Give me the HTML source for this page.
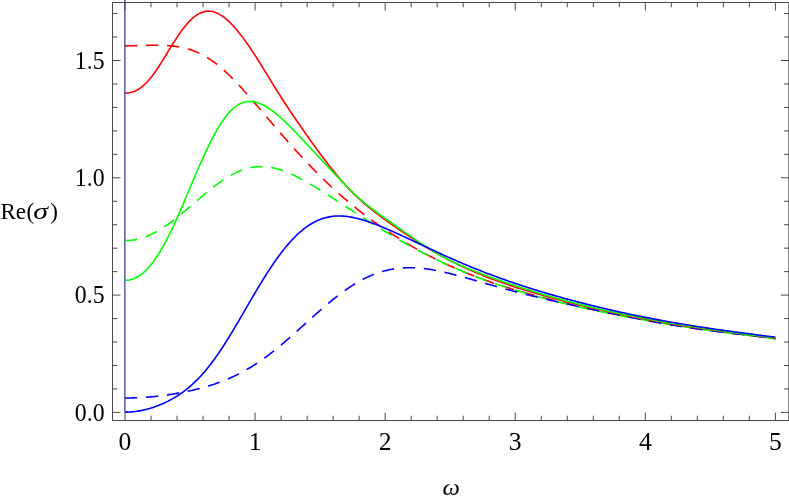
<!DOCTYPE html>
<html><head><meta charset="utf-8"><title>Re(sigma) vs omega</title>
<style>
html,body{margin:0;padding:0;background:#fff;}
body{width:789px;height:500px;overflow:hidden;font-family:"Liberation Serif",serif;}
svg{display:block;}
text{font-family:"Liberation Serif",serif;font-size:25.6px;fill:#000;}
</style></head>
<body>
<svg width="789" height="500" viewBox="0 0 789 500">
<rect x="0" y="0" width="789" height="500" fill="#ffffff"/>
<line x1="124.8" y1="0" x2="124.8" y2="412.4" stroke="#6463b0" stroke-width="1.6"/>
<rect x="112.5" y="2.5" width="676.35" height="418.0" fill="none" stroke="#4a4a4a" stroke-width="1"/>
<path d="M125.00 420.5 v-8.0 M125.00 2.5 v8.0 M151.02 420.5 v-4.8 M151.02 2.5 v4.8 M177.03 420.5 v-4.8 M177.03 2.5 v4.8 M203.05 420.5 v-4.8 M203.05 2.5 v4.8 M229.06 420.5 v-4.8 M229.06 2.5 v4.8 M255.08 420.5 v-8.0 M255.08 2.5 v8.0 M281.10 420.5 v-4.8 M281.10 2.5 v4.8 M307.11 420.5 v-4.8 M307.11 2.5 v4.8 M333.13 420.5 v-4.8 M333.13 2.5 v4.8 M359.14 420.5 v-4.8 M359.14 2.5 v4.8 M385.16 420.5 v-8.0 M385.16 2.5 v8.0 M411.18 420.5 v-4.8 M411.18 2.5 v4.8 M437.19 420.5 v-4.8 M437.19 2.5 v4.8 M463.21 420.5 v-4.8 M463.21 2.5 v4.8 M489.22 420.5 v-4.8 M489.22 2.5 v4.8 M515.24 420.5 v-8.0 M515.24 2.5 v8.0 M541.26 420.5 v-4.8 M541.26 2.5 v4.8 M567.27 420.5 v-4.8 M567.27 2.5 v4.8 M593.29 420.5 v-4.8 M593.29 2.5 v4.8 M619.30 420.5 v-4.8 M619.30 2.5 v4.8 M645.32 420.5 v-8.0 M645.32 2.5 v8.0 M671.34 420.5 v-4.8 M671.34 2.5 v4.8 M697.35 420.5 v-4.8 M697.35 2.5 v4.8 M723.37 420.5 v-4.8 M723.37 2.5 v4.8 M749.38 420.5 v-4.8 M749.38 2.5 v4.8 M775.40 420.5 v-8.0 M775.40 2.5 v8.0 M112.5 412.40 h8.0 M788.85 412.40 h-8.0 M112.5 388.94 h4.8 M788.85 388.94 h-4.8 M112.5 365.48 h4.8 M788.85 365.48 h-4.8 M112.5 342.02 h4.8 M788.85 342.02 h-4.8 M112.5 318.56 h4.8 M788.85 318.56 h-4.8 M112.5 295.10 h8.0 M788.85 295.10 h-8.0 M112.5 271.64 h4.8 M788.85 271.64 h-4.8 M112.5 248.18 h4.8 M788.85 248.18 h-4.8 M112.5 224.72 h4.8 M788.85 224.72 h-4.8 M112.5 201.26 h4.8 M788.85 201.26 h-4.8 M112.5 177.80 h8.0 M788.85 177.80 h-8.0 M112.5 154.34 h4.8 M788.85 154.34 h-4.8 M112.5 130.88 h4.8 M788.85 130.88 h-4.8 M112.5 107.42 h4.8 M788.85 107.42 h-4.8 M112.5 83.96 h4.8 M788.85 83.96 h-4.8 M112.5 60.50 h8.0 M788.85 60.50 h-8.0 M112.5 37.04 h4.8 M788.85 37.04 h-4.8 M112.5 13.58 h4.8 M788.85 13.58 h-4.8" stroke="#4a4a4a" stroke-width="1" fill="none"/>
<g stroke-linecap="butt" stroke-linejoin="round">
<path d="M125.00 45.85 L126.30 45.84 L127.60 45.82 L128.90 45.80 L130.20 45.78 L131.50 45.76 L132.80 45.73 L134.11 45.70 L135.41 45.67 L136.71 45.64 L138.01 45.61 L139.31 45.58 L140.61 45.55 L141.91 45.51 L143.21 45.48 L144.51 45.45 L145.81 45.42 L147.11 45.39 L148.41 45.37 L149.72 45.34 L151.02 45.32 L152.32 45.31 L153.62 45.30 L154.92 45.29 L156.22 45.29 L157.52 45.29 L158.82 45.31 L160.12 45.33 L161.42 45.35 L162.72 45.39 L164.02 45.44 L165.32 45.50 L166.63 45.56 L167.93 45.65 L169.23 45.74 L170.53 45.85 L171.83 45.97 L173.13 46.10 L174.43 46.26 L175.73 46.43 L177.03 46.61 L178.33 46.82 L179.63 47.04 L180.93 47.29 L182.24 47.55 L183.54 47.84 L184.84 48.15 L186.14 48.48 L187.44 48.84 L188.74 49.22 L190.04 49.62 L191.34 50.05 L192.64 50.51 L193.94 50.99 L195.24 51.50 L196.54 52.04 L197.84 52.61 L199.15 53.21 L200.45 53.83 L201.75 54.48 L203.05 55.17 L204.35 55.88 L205.65 56.63 L206.95 57.40 L208.25 58.21 L209.55 59.04 L210.85 59.91 L212.15 60.80 L213.45 61.73 L214.76 62.68 L216.06 63.67 L217.36 64.68 L218.66 65.72 L219.96 66.79 L221.26 67.89 L222.56 69.02 L223.86 70.17 L225.16 71.35 L226.46 72.55 L227.76 73.77 L229.06 75.02 L230.36 76.29 L231.67 77.59 L232.97 78.90 L234.27 80.23 L235.57 81.58 L236.87 82.95 L238.17 84.34 L239.47 85.74 L240.77 87.16 L242.07 88.58 L243.37 90.03 L244.67 91.48 L245.97 92.95 L247.28 94.42 L248.58 95.91 L249.88 97.40 L251.18 98.90 L252.48 100.40 L253.78 101.91 L255.08 103.43 L256.38 104.95 L257.68 106.47 L258.98 108.00 L260.28 109.53 L261.58 111.06 L262.88 112.59 L264.19 114.12 L265.49 115.65 L266.79 117.18 L268.09 118.71 L269.39 120.23 L270.69 121.76 L271.99 123.28 L273.29 124.80 L274.59 126.32 L275.89 127.84 L277.19 129.35 L278.49 130.86 L279.80 132.36 L281.10 133.86 L282.40 135.35 L283.70 136.85 L285.00 138.33 L286.30 139.81 L287.60 141.29 L288.90 142.76 L290.20 144.22 L291.50 145.68 L292.80 147.13 L294.10 148.58 L295.40 150.02 L296.71 151.45 L298.01 152.88 L299.31 154.30 L300.61 155.71 L301.91 157.12 L303.21 158.52 L304.51 159.91 L305.81 161.29 L307.11 162.67 L308.41 164.03 L309.71 165.39 L311.01 166.75 L312.32 168.09 L313.62 169.43 L314.92 170.75 L316.22 172.07 L317.52 173.38 L318.82 174.68 L320.12 175.98 L321.42 177.26 L322.72 178.53 L324.02 179.80 L325.32 181.06 L326.62 182.30 L327.92 183.54 L329.23 184.77 L330.53 185.99 L331.83 187.21 L333.13 188.41 L334.43 189.60 L335.73 190.78 L337.03 191.96 L338.33 193.13 L339.63 194.28 L340.93 195.43 L342.23 196.57 L343.53 197.70 L344.84 198.82 L346.14 199.93 L347.44 201.03 L348.74 202.13 L350.04 203.21 L351.34 204.29 L352.64 205.36 L353.94 206.42 L355.24 207.47 L356.54 208.51 L357.84 209.55 L359.14 210.57 L360.44 211.59 L361.75 212.60 L363.05 213.61 L364.35 214.60 L365.65 215.59 L366.95 216.57 L368.25 217.54 L369.55 218.50 L370.85 219.46 L372.15 220.41 L373.45 221.35 L374.75 222.29 L376.05 223.22 L377.36 224.14 L378.66 225.05 L379.96 225.96 L381.26 226.86 L382.56 227.76 L383.86 228.65 L385.16 229.53 L386.46 230.40 L387.76 231.27 L389.06 232.13 L390.36 232.99 L391.66 233.84 L392.96 234.68 L394.27 235.52 L395.57 236.35 L396.87 237.18 L398.17 237.99 L399.47 238.81 L400.77 239.61 L402.07 240.41 L403.37 241.21 L404.67 242.00 L405.97 242.78 L407.27 243.56 L408.57 244.33 L409.88 245.09 L411.18 245.85 L412.48 246.61 L413.78 247.36 L415.08 248.10 L416.38 248.83 L417.68 249.57 L418.98 250.29 L420.28 251.01 L421.58 251.72 L422.88 252.43 L424.18 253.13 L425.48 253.83 L426.79 254.52 L428.09 255.21 L429.39 255.89 L430.69 256.56 L431.99 257.23 L433.29 257.89 L434.59 258.55 L435.89 259.20 L437.19 259.85 L438.49 260.49 L439.79 261.12 L441.09 261.75 L442.40 262.38 L443.70 263.00 L445.00 263.61 L446.30 264.22 L447.60 264.82 L448.90 265.42 L450.20 266.01 L451.50 266.60 L452.80 267.18 L454.10 267.76 L455.40 268.33 L456.70 268.90 L458.00 269.46 L459.31 270.02 L460.61 270.57 L461.91 271.12 L463.21 271.66 L464.51 272.20 L465.81 272.74 L467.11 273.26 L468.41 273.79 L469.71 274.31 L471.01 274.82 L472.31 275.33 L473.61 275.84 L474.92 276.34 L476.22 276.83 L477.52 277.33 L478.82 277.81 L480.12 278.30 L481.42 278.78 L482.72 279.25 L484.02 279.72 L485.32 280.19 L486.62 280.66 L487.92 281.12 L489.22 281.57 L490.52 282.02 L491.83 282.47 L493.13 282.91 L494.43 283.36 L495.73 283.79 L497.03 284.23 L498.33 284.66 L499.63 285.08 L500.93 285.50 L502.23 285.92 L503.53 286.34 L504.83 286.75 L506.13 287.16 L507.44 287.57 L508.74 287.97 L510.04 288.37 L511.34 288.77 L512.64 289.17 L513.94 289.56 L515.24 289.95 L516.54 290.33 L517.84 290.72 L519.14 291.10 L520.44 291.47 L521.74 291.85 L523.04 292.22 L524.35 292.59 L525.65 292.96 L526.95 293.32 L528.25 293.69 L529.55 294.05 L530.85 294.41 L532.15 294.76 L533.45 295.12 L534.75 295.47 L536.05 295.82 L537.35 296.17 L538.65 296.51 L539.96 296.85 L541.26 297.20 L542.56 297.54 L543.86 297.87 L545.16 298.21 L546.46 298.54 L547.76 298.88 L549.06 299.21 L550.36 299.54 L551.66 299.86 L552.96 300.19 L554.26 300.51 L555.56 300.83 L556.87 301.15 L558.17 301.47 L559.47 301.79 L560.77 302.11 L562.07 302.42 L563.37 302.73 L564.67 303.05 L565.97 303.36 L567.27 303.66 L568.57 303.97 L569.87 304.28 L571.17 304.58 L572.48 304.89 L573.78 305.19 L575.08 305.49 L576.38 305.79 L577.68 306.09 L578.98 306.38 L580.28 306.68 L581.58 306.97 L582.88 307.27 L584.18 307.56 L585.48 307.85 L586.78 308.14 L588.08 308.43 L589.39 308.72 L590.69 309.00 L591.99 309.29 L593.29 309.57 L594.59 309.85 L595.89 310.14 L597.19 310.42 L598.49 310.70 L599.79 310.97 L601.09 311.25 L602.39 311.53 L603.69 311.80 L605.00 312.08 L606.30 312.35 L607.60 312.62 L608.90 312.89 L610.20 313.16 L611.50 313.43 L612.80 313.70 L614.10 313.96 L615.40 314.23 L616.70 314.49 L618.00 314.76 L619.30 315.02 L620.60 315.28 L621.91 315.54 L623.21 315.80 L624.51 316.05 L625.81 316.31 L627.11 316.57 L628.41 316.82 L629.71 317.07 L631.01 317.32 L632.31 317.58 L633.61 317.83 L634.91 318.07 L636.21 318.32 L637.52 318.57 L638.82 318.81 L640.12 319.06 L641.42 319.30 L642.72 319.54 L644.02 319.78 L645.32 320.02 L646.62 320.26 L647.92 320.50 L649.22 320.73 L650.52 320.97 L651.82 321.20 L653.12 321.43 L654.43 321.66 L655.73 321.89 L657.03 322.12 L658.33 322.35 L659.63 322.58 L660.93 322.80 L662.23 323.03 L663.53 323.25 L664.83 323.47 L666.13 323.69 L667.43 323.91 L668.73 324.13 L670.04 324.34 L671.34 324.56 L672.64 324.77 L673.94 324.99 L675.24 325.20 L676.54 325.41 L677.84 325.62 L679.14 325.82 L680.44 326.03 L681.74 326.24 L683.04 326.44 L684.34 326.64 L685.64 326.84 L686.95 327.04 L688.25 327.24 L689.55 327.44 L690.85 327.64 L692.15 327.83 L693.45 328.03 L694.75 328.22 L696.05 328.41 L697.35 328.60 L698.65 328.79 L699.95 328.98 L701.25 329.17 L702.56 329.36 L703.86 329.54 L705.16 329.72 L706.46 329.91 L707.76 330.09 L709.06 330.27 L710.36 330.45 L711.66 330.63 L712.96 330.80 L714.26 330.98 L715.56 331.16 L716.86 331.33 L718.16 331.50 L719.47 331.68 L720.77 331.85 L722.07 332.02 L723.37 332.19 L724.67 332.36 L725.97 332.52 L727.27 332.69 L728.57 332.86 L729.87 333.02 L731.17 333.19 L732.47 333.35 L733.77 333.52 L735.08 333.68 L736.38 333.84 L737.68 334.00 L738.98 334.16 L740.28 334.32 L741.58 334.48 L742.88 334.64 L744.18 334.80 L745.48 334.96 L746.78 335.12 L748.08 335.28 L749.38 335.44 L750.68 335.59 L751.99 335.75 L753.29 335.91 L754.59 336.07 L755.89 336.23 L757.19 336.38 L758.49 336.54 L759.79 336.70 L761.09 336.86 L762.39 337.02 L763.69 337.18 L764.99 337.33 L766.29 337.49 L767.60 337.66 L768.90 337.82 L770.20 337.98 L771.50 338.14 L772.80 338.30 L774.10 338.47 L775.40 338.63" stroke="#ff0000" stroke-width="1.6" fill="none" stroke-dasharray="12.3 8.76"/>
<path d="M125.00 240.55 L126.30 240.54 L127.60 240.51 L128.90 240.44 L130.20 240.34 L131.50 240.20 L132.80 240.04 L134.11 239.84 L135.41 239.61 L136.71 239.35 L138.01 239.06 L139.31 238.73 L140.61 238.38 L141.91 237.99 L143.21 237.57 L144.51 237.13 L145.81 236.65 L147.11 236.14 L148.41 235.60 L149.72 235.04 L151.02 234.44 L152.32 233.82 L153.62 233.17 L154.92 232.49 L156.22 231.79 L157.52 231.06 L158.82 230.30 L160.12 229.52 L161.42 228.72 L162.72 227.89 L164.02 227.04 L165.32 226.17 L166.63 225.27 L167.93 224.36 L169.23 223.43 L170.53 222.48 L171.83 221.51 L173.13 220.52 L174.43 219.52 L175.73 218.50 L177.03 217.47 L178.33 216.43 L179.63 215.38 L180.93 214.31 L182.24 213.23 L183.54 212.15 L184.84 211.05 L186.14 209.95 L187.44 208.84 L188.74 207.73 L190.04 206.61 L191.34 205.49 L192.64 204.37 L193.94 203.25 L195.24 202.13 L196.54 201.01 L197.84 199.89 L199.15 198.77 L200.45 197.66 L201.75 196.55 L203.05 195.45 L204.35 194.36 L205.65 193.28 L206.95 192.20 L208.25 191.14 L209.55 190.09 L210.85 189.05 L212.15 188.02 L213.45 187.01 L214.76 186.01 L216.06 185.03 L217.36 184.07 L218.66 183.12 L219.96 182.19 L221.26 181.29 L222.56 180.40 L223.86 179.54 L225.16 178.70 L226.46 177.88 L227.76 177.08 L229.06 176.31 L230.36 175.57 L231.67 174.85 L232.97 174.15 L234.27 173.49 L235.57 172.85 L236.87 172.24 L238.17 171.66 L239.47 171.11 L240.77 170.59 L242.07 170.10 L243.37 169.64 L244.67 169.22 L245.97 168.82 L247.28 168.46 L248.58 168.12 L249.88 167.82 L251.18 167.55 L252.48 167.32 L253.78 167.12 L255.08 166.95 L256.38 166.81 L257.68 166.70 L258.98 166.63 L260.28 166.59 L261.58 166.58 L262.88 166.60 L264.19 166.66 L265.49 166.74 L266.79 166.86 L268.09 167.01 L269.39 167.19 L270.69 167.39 L271.99 167.63 L273.29 167.89 L274.59 168.18 L275.89 168.50 L277.19 168.84 L278.49 169.21 L279.80 169.61 L281.10 170.03 L282.40 170.47 L283.70 170.93 L285.00 171.42 L286.30 171.93 L287.60 172.46 L288.90 173.01 L290.20 173.57 L291.50 174.16 L292.80 174.76 L294.10 175.38 L295.40 176.01 L296.71 176.66 L298.01 177.32 L299.31 178.00 L300.61 178.69 L301.91 179.39 L303.21 180.10 L304.51 180.82 L305.81 181.55 L307.11 182.29 L308.41 183.04 L309.71 183.80 L311.01 184.57 L312.32 185.34 L313.62 186.12 L314.92 186.90 L316.22 187.69 L317.52 188.49 L318.82 189.29 L320.12 190.09 L321.42 190.90 L322.72 191.72 L324.02 192.53 L325.32 193.35 L326.62 194.18 L327.92 195.00 L329.23 195.83 L330.53 196.66 L331.83 197.50 L333.13 198.33 L334.43 199.17 L335.73 200.00 L337.03 200.84 L338.33 201.68 L339.63 202.53 L340.93 203.37 L342.23 204.21 L343.53 205.05 L344.84 205.90 L346.14 206.74 L347.44 207.59 L348.74 208.43 L350.04 209.27 L351.34 210.12 L352.64 210.96 L353.94 211.80 L355.24 212.64 L356.54 213.48 L357.84 214.32 L359.14 215.16 L360.44 216.00 L361.75 216.83 L363.05 217.67 L364.35 218.50 L365.65 219.33 L366.95 220.16 L368.25 220.98 L369.55 221.81 L370.85 222.63 L372.15 223.45 L373.45 224.27 L374.75 225.08 L376.05 225.89 L377.36 226.70 L378.66 227.51 L379.96 228.31 L381.26 229.11 L382.56 229.91 L383.86 230.71 L385.16 231.50 L386.46 232.29 L387.76 233.07 L389.06 233.85 L390.36 234.63 L391.66 235.41 L392.96 236.18 L394.27 236.94 L395.57 237.71 L396.87 238.47 L398.17 239.22 L399.47 239.98 L400.77 240.72 L402.07 241.47 L403.37 242.21 L404.67 242.95 L405.97 243.68 L407.27 244.41 L408.57 245.13 L409.88 245.85 L411.18 246.57 L412.48 247.28 L413.78 247.99 L415.08 248.69 L416.38 249.39 L417.68 250.08 L418.98 250.77 L420.28 251.46 L421.58 252.14 L422.88 252.82 L424.18 253.49 L425.48 254.16 L426.79 254.82 L428.09 255.48 L429.39 256.14 L430.69 256.79 L431.99 257.44 L433.29 258.08 L434.59 258.71 L435.89 259.35 L437.19 259.98 L438.49 260.60 L439.79 261.22 L441.09 261.83 L442.40 262.44 L443.70 263.05 L445.00 263.65 L446.30 264.25 L447.60 264.84 L448.90 265.43 L450.20 266.01 L451.50 266.59 L452.80 267.17 L454.10 267.74 L455.40 268.30 L456.70 268.87 L458.00 269.42 L459.31 269.98 L460.61 270.53 L461.91 271.07 L463.21 271.61 L464.51 272.15 L465.81 272.68 L467.11 273.21 L468.41 273.73 L469.71 274.25 L471.01 274.77 L472.31 275.28 L473.61 275.79 L474.92 276.29 L476.22 276.79 L477.52 277.29 L478.82 277.78 L480.12 278.27 L481.42 278.75 L482.72 279.23 L484.02 279.71 L485.32 280.18 L486.62 280.65 L487.92 281.12 L489.22 281.58 L490.52 282.04 L491.83 282.50 L493.13 282.95 L494.43 283.40 L495.73 283.84 L497.03 284.28 L498.33 284.72 L499.63 285.16 L500.93 285.59 L502.23 286.02 L503.53 286.44 L504.83 286.86 L506.13 287.28 L507.44 287.70 L508.74 288.11 L510.04 288.52 L511.34 288.93 L512.64 289.33 L513.94 289.73 L515.24 290.13 L516.54 290.53 L517.84 290.92 L519.14 291.31 L520.44 291.70 L521.74 292.08 L523.04 292.46 L524.35 292.84 L525.65 293.22 L526.95 293.59 L528.25 293.96 L529.55 294.33 L530.85 294.70 L532.15 295.06 L533.45 295.43 L534.75 295.78 L536.05 296.14 L537.35 296.50 L538.65 296.85 L539.96 297.20 L541.26 297.55 L542.56 297.90 L543.86 298.24 L545.16 298.58 L546.46 298.92 L547.76 299.26 L549.06 299.60 L550.36 299.93 L551.66 300.27 L552.96 300.60 L554.26 300.92 L555.56 301.25 L556.87 301.58 L558.17 301.90 L559.47 302.22 L560.77 302.54 L562.07 302.86 L563.37 303.18 L564.67 303.49 L565.97 303.80 L567.27 304.11 L568.57 304.42 L569.87 304.73 L571.17 305.04 L572.48 305.34 L573.78 305.65 L575.08 305.95 L576.38 306.25 L577.68 306.55 L578.98 306.84 L580.28 307.14 L581.58 307.43 L582.88 307.73 L584.18 308.02 L585.48 308.31 L586.78 308.60 L588.08 308.88 L589.39 309.17 L590.69 309.45 L591.99 309.74 L593.29 310.02 L594.59 310.30 L595.89 310.58 L597.19 310.85 L598.49 311.13 L599.79 311.41 L601.09 311.68 L602.39 311.95 L603.69 312.22 L605.00 312.49 L606.30 312.76 L607.60 313.03 L608.90 313.29 L610.20 313.56 L611.50 313.82 L612.80 314.08 L614.10 314.35 L615.40 314.61 L616.70 314.86 L618.00 315.12 L619.30 315.38 L620.60 315.63 L621.91 315.89 L623.21 316.14 L624.51 316.39 L625.81 316.64 L627.11 316.89 L628.41 317.14 L629.71 317.38 L631.01 317.63 L632.31 317.87 L633.61 318.12 L634.91 318.36 L636.21 318.60 L637.52 318.84 L638.82 319.08 L640.12 319.32 L641.42 319.55 L642.72 319.79 L644.02 320.02 L645.32 320.25 L646.62 320.49 L647.92 320.72 L649.22 320.95 L650.52 321.18 L651.82 321.40 L653.12 321.63 L654.43 321.85 L655.73 322.08 L657.03 322.30 L658.33 322.52 L659.63 322.74 L660.93 322.96 L662.23 323.18 L663.53 323.40 L664.83 323.62 L666.13 323.83 L667.43 324.04 L668.73 324.26 L670.04 324.47 L671.34 324.68 L672.64 324.89 L673.94 325.10 L675.24 325.31 L676.54 325.51 L677.84 325.72 L679.14 325.92 L680.44 326.13 L681.74 326.33 L683.04 326.53 L684.34 326.73 L685.64 326.93 L686.95 327.13 L688.25 327.33 L689.55 327.52 L690.85 327.72 L692.15 327.91 L693.45 328.10 L694.75 328.30 L696.05 328.49 L697.35 328.68 L698.65 328.87 L699.95 329.06 L701.25 329.24 L702.56 329.43 L703.86 329.61 L705.16 329.80 L706.46 329.98 L707.76 330.16 L709.06 330.35 L710.36 330.53 L711.66 330.71 L712.96 330.89 L714.26 331.06 L715.56 331.24 L716.86 331.42 L718.16 331.59 L719.47 331.77 L720.77 331.94 L722.07 332.11 L723.37 332.29 L724.67 332.46 L725.97 332.63 L727.27 332.80 L728.57 332.97 L729.87 333.14 L731.17 333.30 L732.47 333.47 L733.77 333.64 L735.08 333.80 L736.38 333.97 L737.68 334.13 L738.98 334.30 L740.28 334.46 L741.58 334.62 L742.88 334.78 L744.18 334.94 L745.48 335.11 L746.78 335.27 L748.08 335.43 L749.38 335.58 L750.68 335.74 L751.99 335.90 L753.29 336.06 L754.59 336.22 L755.89 336.38 L757.19 336.53 L758.49 336.69 L759.79 336.85 L761.09 337.00 L762.39 337.16 L763.69 337.32 L764.99 337.47 L766.29 337.63 L767.60 337.78 L768.90 337.94 L770.20 338.10 L771.50 338.25 L772.80 338.41 L774.10 338.56 L775.40 338.72" stroke="#00ff00" stroke-width="1.6" fill="none" stroke-dasharray="12.3 8.78"/>
<path d="M125.00 398.03 L126.30 398.03 L127.60 398.01 L128.90 398.00 L130.20 397.97 L131.50 397.94 L132.80 397.91 L134.11 397.87 L135.41 397.82 L136.71 397.77 L138.01 397.71 L139.31 397.65 L140.61 397.58 L141.91 397.50 L143.21 397.42 L144.51 397.34 L145.81 397.25 L147.11 397.15 L148.41 397.05 L149.72 396.94 L151.02 396.83 L152.32 396.71 L153.62 396.58 L154.92 396.45 L156.22 396.32 L157.52 396.18 L158.82 396.03 L160.12 395.88 L161.42 395.72 L162.72 395.55 L164.02 395.39 L165.32 395.21 L166.63 395.03 L167.93 394.84 L169.23 394.65 L170.53 394.46 L171.83 394.25 L173.13 394.04 L174.43 393.83 L175.73 393.61 L177.03 393.38 L178.33 393.15 L179.63 392.92 L180.93 392.67 L182.24 392.42 L183.54 392.17 L184.84 391.91 L186.14 391.64 L187.44 391.37 L188.74 391.09 L190.04 390.80 L191.34 390.51 L192.64 390.21 L193.94 389.90 L195.24 389.59 L196.54 389.27 L197.84 388.94 L199.15 388.61 L200.45 388.27 L201.75 387.92 L203.05 387.56 L204.35 387.20 L205.65 386.83 L206.95 386.45 L208.25 386.06 L209.55 385.66 L210.85 385.25 L212.15 384.84 L213.45 384.41 L214.76 383.97 L216.06 383.53 L217.36 383.07 L218.66 382.61 L219.96 382.13 L221.26 381.65 L222.56 381.15 L223.86 380.64 L225.16 380.12 L226.46 379.59 L227.76 379.04 L229.06 378.49 L230.36 377.92 L231.67 377.33 L232.97 376.74 L234.27 376.13 L235.57 375.51 L236.87 374.88 L238.17 374.23 L239.47 373.57 L240.77 372.89 L242.07 372.20 L243.37 371.50 L244.67 370.78 L245.97 370.05 L247.28 369.30 L248.58 368.54 L249.88 367.76 L251.18 366.97 L252.48 366.16 L253.78 365.34 L255.08 364.51 L256.38 363.66 L257.68 362.80 L258.98 361.92 L260.28 361.03 L261.58 360.12 L262.88 359.20 L264.19 358.27 L265.49 357.32 L266.79 356.36 L268.09 355.39 L269.39 354.41 L270.69 353.41 L271.99 352.40 L273.29 351.38 L274.59 350.34 L275.89 349.30 L277.19 348.24 L278.49 347.18 L279.80 346.10 L281.10 345.02 L282.40 343.93 L283.70 342.82 L285.00 341.71 L286.30 340.59 L287.60 339.47 L288.90 338.33 L290.20 337.19 L291.50 336.05 L292.80 334.90 L294.10 333.74 L295.40 332.58 L296.71 331.42 L298.01 330.25 L299.31 329.08 L300.61 327.90 L301.91 326.73 L303.21 325.55 L304.51 324.38 L305.81 323.20 L307.11 322.02 L308.41 320.85 L309.71 319.67 L311.01 318.50 L312.32 317.33 L313.62 316.16 L314.92 315.00 L316.22 313.84 L317.52 312.69 L318.82 311.54 L320.12 310.40 L321.42 309.27 L322.72 308.14 L324.02 307.02 L325.32 305.90 L326.62 304.80 L327.92 303.71 L329.23 302.62 L330.53 301.55 L331.83 300.48 L333.13 299.43 L334.43 298.39 L335.73 297.36 L337.03 296.34 L338.33 295.34 L339.63 294.35 L340.93 293.38 L342.23 292.42 L343.53 291.47 L344.84 290.54 L346.14 289.63 L347.44 288.73 L348.74 287.84 L350.04 286.98 L351.34 286.13 L352.64 285.30 L353.94 284.49 L355.24 283.69 L356.54 282.91 L357.84 282.15 L359.14 281.41 L360.44 280.69 L361.75 279.99 L363.05 279.31 L364.35 278.65 L365.65 278.00 L366.95 277.38 L368.25 276.77 L369.55 276.19 L370.85 275.63 L372.15 275.08 L373.45 274.56 L374.75 274.05 L376.05 273.57 L377.36 273.11 L378.66 272.66 L379.96 272.24 L381.26 271.84 L382.56 271.45 L383.86 271.09 L385.16 270.74 L386.46 270.42 L387.76 270.11 L389.06 269.83 L390.36 269.56 L391.66 269.31 L392.96 269.08 L394.27 268.87 L395.57 268.68 L396.87 268.50 L398.17 268.35 L399.47 268.21 L400.77 268.09 L402.07 267.99 L403.37 267.90 L404.67 267.83 L405.97 267.78 L407.27 267.74 L408.57 267.72 L409.88 267.72 L411.18 267.73 L412.48 267.75 L413.78 267.79 L415.08 267.85 L416.38 267.92 L417.68 268.00 L418.98 268.10 L420.28 268.21 L421.58 268.33 L422.88 268.47 L424.18 268.61 L425.48 268.77 L426.79 268.95 L428.09 269.13 L429.39 269.32 L430.69 269.53 L431.99 269.74 L433.29 269.96 L434.59 270.20 L435.89 270.44 L437.19 270.69 L438.49 270.95 L439.79 271.22 L441.09 271.50 L442.40 271.78 L443.70 272.07 L445.00 272.37 L446.30 272.67 L447.60 272.98 L448.90 273.30 L450.20 273.62 L451.50 273.94 L452.80 274.27 L454.10 274.61 L455.40 274.95 L456.70 275.29 L458.00 275.64 L459.31 275.99 L460.61 276.35 L461.91 276.70 L463.21 277.06 L464.51 277.42 L465.81 277.79 L467.11 278.15 L468.41 278.52 L469.71 278.89 L471.01 279.26 L472.31 279.63 L473.61 280.00 L474.92 280.38 L476.22 280.75 L477.52 281.12 L478.82 281.50 L480.12 281.87 L481.42 282.25 L482.72 282.62 L484.02 282.99 L485.32 283.37 L486.62 283.74 L487.92 284.11 L489.22 284.48 L490.52 284.85 L491.83 285.22 L493.13 285.59 L494.43 285.95 L495.73 286.32 L497.03 286.68 L498.33 287.05 L499.63 287.41 L500.93 287.77 L502.23 288.13 L503.53 288.48 L504.83 288.84 L506.13 289.19 L507.44 289.54 L508.74 289.89 L510.04 290.24 L511.34 290.59 L512.64 290.93 L513.94 291.27 L515.24 291.61 L516.54 291.95 L517.84 292.29 L519.14 292.63 L520.44 292.96 L521.74 293.29 L523.04 293.62 L524.35 293.95 L525.65 294.28 L526.95 294.60 L528.25 294.93 L529.55 295.25 L530.85 295.57 L532.15 295.89 L533.45 296.20 L534.75 296.52 L536.05 296.83 L537.35 297.14 L538.65 297.45 L539.96 297.76 L541.26 298.07 L542.56 298.38 L543.86 298.68 L545.16 298.99 L546.46 299.29 L547.76 299.59 L549.06 299.89 L550.36 300.19 L551.66 300.49 L552.96 300.79 L554.26 301.08 L555.56 301.38 L556.87 301.67 L558.17 301.97 L559.47 302.26 L560.77 302.55 L562.07 302.84 L563.37 303.13 L564.67 303.42 L565.97 303.71 L567.27 304.00 L568.57 304.29 L569.87 304.57 L571.17 304.86 L572.48 305.15 L573.78 305.43 L575.08 305.72 L576.38 306.00 L577.68 306.28 L578.98 306.57 L580.28 306.85 L581.58 307.13 L582.88 307.41 L584.18 307.70 L585.48 307.98 L586.78 308.26 L588.08 308.54 L589.39 308.82 L590.69 309.10 L591.99 309.38 L593.29 309.65 L594.59 309.93 L595.89 310.21 L597.19 310.49 L598.49 310.76 L599.79 311.04 L601.09 311.32 L602.39 311.59 L603.69 311.87 L605.00 312.14 L606.30 312.41 L607.60 312.69 L608.90 312.96 L610.20 313.23 L611.50 313.50 L612.80 313.77 L614.10 314.04 L615.40 314.31 L616.70 314.58 L618.00 314.85 L619.30 315.11 L620.60 315.38 L621.91 315.65 L623.21 315.91 L624.51 316.17 L625.81 316.44 L627.11 316.70 L628.41 316.96 L629.71 317.22 L631.01 317.48 L632.31 317.74 L633.61 317.99 L634.91 318.25 L636.21 318.51 L637.52 318.76 L638.82 319.01 L640.12 319.26 L641.42 319.51 L642.72 319.76 L644.02 320.01 L645.32 320.26 L646.62 320.50 L647.92 320.75 L649.22 320.99 L650.52 321.23 L651.82 321.47 L653.12 321.71 L654.43 321.95 L655.73 322.18 L657.03 322.42 L658.33 322.65 L659.63 322.88 L660.93 323.11 L662.23 323.34 L663.53 323.57 L664.83 323.79 L666.13 324.02 L667.43 324.24 L668.73 324.46 L670.04 324.68 L671.34 324.90 L672.64 325.11 L673.94 325.33 L675.24 325.54 L676.54 325.75 L677.84 325.96 L679.14 326.17 L680.44 326.37 L681.74 326.58 L683.04 326.78 L684.34 326.98 L685.64 327.18 L686.95 327.37 L688.25 327.57 L689.55 327.76 L690.85 327.96 L692.15 328.15 L693.45 328.33 L694.75 328.52 L696.05 328.71 L697.35 328.89 L698.65 329.07 L699.95 329.25 L701.25 329.43 L702.56 329.61 L703.86 329.79 L705.16 329.96 L706.46 330.13 L707.76 330.30 L709.06 330.47 L710.36 330.64 L711.66 330.81 L712.96 330.98 L714.26 331.14 L715.56 331.30 L716.86 331.47 L718.16 331.63 L719.47 331.79 L720.77 331.95 L722.07 332.11 L723.37 332.26 L724.67 332.42 L725.97 332.58 L727.27 332.73 L728.57 332.88 L729.87 333.04 L731.17 333.19 L732.47 333.34 L733.77 333.50 L735.08 333.65 L736.38 333.80 L737.68 333.95 L738.98 334.11 L740.28 334.26 L741.58 334.41 L742.88 334.56 L744.18 334.71 L745.48 334.87 L746.78 335.02 L748.08 335.18 L749.38 335.33 L750.68 335.49 L751.99 335.65 L753.29 335.81 L754.59 335.97 L755.89 336.13 L757.19 336.29 L758.49 336.45 L759.79 336.62 L761.09 336.79 L762.39 336.96 L763.69 337.13 L764.99 337.31 L766.29 337.49 L767.60 337.67 L768.90 337.85 L770.20 338.04 L771.50 338.23 L772.80 338.43 L774.10 338.62 L775.40 338.83" stroke="#0000ff" stroke-width="1.6" fill="none" stroke-dasharray="12.3 8.74"/>
<path d="M125.00 93.02 L126.30 93.01 L127.60 92.93 L128.90 92.78 L130.20 92.55 L131.50 92.25 L132.80 91.87 L134.11 91.41 L135.41 90.86 L136.71 90.23 L138.01 89.51 L139.31 88.70 L140.61 87.80 L141.91 86.81 L143.21 85.72 L144.51 84.55 L145.81 83.29 L147.11 81.94 L148.41 80.51 L149.72 79.00 L151.02 77.41 L152.32 75.74 L153.62 74.01 L154.92 72.21 L156.22 70.35 L157.52 68.43 L158.82 66.47 L160.12 64.47 L161.42 62.42 L162.72 60.35 L164.02 58.25 L165.32 56.14 L166.63 54.01 L167.93 51.88 L169.23 49.75 L170.53 47.63 L171.83 45.52 L173.13 43.43 L174.43 41.37 L175.73 39.34 L177.03 37.35 L178.33 35.40 L179.63 33.51 L180.93 31.66 L182.24 29.88 L183.54 28.16 L184.84 26.50 L186.14 24.92 L187.44 23.41 L188.74 21.98 L190.04 20.63 L191.34 19.36 L192.64 18.17 L193.94 17.08 L195.24 16.07 L196.54 15.16 L197.84 14.34 L199.15 13.61 L200.45 12.97 L201.75 12.43 L203.05 11.98 L204.35 11.63 L205.65 11.38 L206.95 11.22 L208.25 11.15 L209.55 11.18 L210.85 11.29 L212.15 11.50 L213.45 11.80 L214.76 12.19 L216.06 12.66 L217.36 13.22 L218.66 13.86 L219.96 14.58 L221.26 15.38 L222.56 16.26 L223.86 17.20 L225.16 18.22 L226.46 19.30 L227.76 20.45 L229.06 21.67 L230.36 22.94 L231.67 24.26 L232.97 25.64 L234.27 27.08 L235.57 28.56 L236.87 30.09 L238.17 31.66 L239.47 33.28 L240.77 34.93 L242.07 36.63 L243.37 38.36 L244.67 40.12 L245.97 41.92 L247.28 43.75 L248.58 45.62 L249.88 47.51 L251.18 49.44 L252.48 51.39 L253.78 53.37 L255.08 55.38 L256.38 57.40 L257.68 59.45 L258.98 61.52 L260.28 63.61 L261.58 65.71 L262.88 67.82 L264.19 69.94 L265.49 72.06 L266.79 74.19 L268.09 76.32 L269.39 78.45 L270.69 80.58 L271.99 82.70 L273.29 84.81 L274.59 86.91 L275.89 88.99 L277.19 91.07 L278.49 93.13 L279.80 95.18 L281.10 97.21 L282.40 99.23 L283.70 101.24 L285.00 103.23 L286.30 105.21 L287.60 107.18 L288.90 109.14 L290.20 111.09 L291.50 113.03 L292.80 114.96 L294.10 116.88 L295.40 118.79 L296.71 120.69 L298.01 122.59 L299.31 124.48 L300.61 126.36 L301.91 128.23 L303.21 130.10 L304.51 131.96 L305.81 133.82 L307.11 135.66 L308.41 137.50 L309.71 139.33 L311.01 141.16 L312.32 142.97 L313.62 144.78 L314.92 146.58 L316.22 148.37 L317.52 150.15 L318.82 151.92 L320.12 153.68 L321.42 155.43 L322.72 157.16 L324.02 158.89 L325.32 160.60 L326.62 162.30 L327.92 163.98 L329.23 165.65 L330.53 167.30 L331.83 168.94 L333.13 170.57 L334.43 172.17 L335.73 173.76 L337.03 175.33 L338.33 176.89 L339.63 178.42 L340.93 179.94 L342.23 181.43 L343.53 182.90 L344.84 184.36 L346.14 185.79 L347.44 187.20 L348.74 188.59 L350.04 189.96 L351.34 191.30 L352.64 192.62 L353.94 193.92 L355.24 195.20 L356.54 196.46 L357.84 197.69 L359.14 198.90 L360.44 200.09 L361.75 201.27 L363.05 202.42 L364.35 203.55 L365.65 204.66 L366.95 205.75 L368.25 206.83 L369.55 207.89 L370.85 208.94 L372.15 209.97 L373.45 210.99 L374.75 212.00 L376.05 212.99 L377.36 213.97 L378.66 214.95 L379.96 215.91 L381.26 216.87 L382.56 217.82 L383.86 218.76 L385.16 219.70 L386.46 220.63 L387.76 221.56 L389.06 222.48 L390.36 223.40 L391.66 224.31 L392.96 225.23 L394.27 226.14 L395.57 227.04 L396.87 227.94 L398.17 228.84 L399.47 229.74 L400.77 230.63 L402.07 231.52 L403.37 232.41 L404.67 233.29 L405.97 234.17 L407.27 235.04 L408.57 235.91 L409.88 236.78 L411.18 237.64 L412.48 238.49 L413.78 239.34 L415.08 240.19 L416.38 241.03 L417.68 241.86 L418.98 242.69 L420.28 243.52 L421.58 244.33 L422.88 245.15 L424.18 245.95 L425.48 246.75 L426.79 247.54 L428.09 248.33 L429.39 249.11 L430.69 249.88 L431.99 250.64 L433.29 251.40 L434.59 252.16 L435.89 252.90 L437.19 253.64 L438.49 254.37 L439.79 255.10 L441.09 255.82 L442.40 256.53 L443.70 257.23 L445.00 257.93 L446.30 258.62 L447.60 259.31 L448.90 259.98 L450.20 260.65 L451.50 261.32 L452.80 261.97 L454.10 262.62 L455.40 263.27 L456.70 263.90 L458.00 264.54 L459.31 265.16 L460.61 265.78 L461.91 266.39 L463.21 266.99 L464.51 267.59 L465.81 268.19 L467.11 268.77 L468.41 269.35 L469.71 269.93 L471.01 270.50 L472.31 271.06 L473.61 271.62 L474.92 272.17 L476.22 272.72 L477.52 273.26 L478.82 273.80 L480.12 274.33 L481.42 274.86 L482.72 275.38 L484.02 275.90 L485.32 276.41 L486.62 276.92 L487.92 277.42 L489.22 277.92 L490.52 278.41 L491.83 278.90 L493.13 279.38 L494.43 279.86 L495.73 280.34 L497.03 280.81 L498.33 281.28 L499.63 281.75 L500.93 282.21 L502.23 282.66 L503.53 283.12 L504.83 283.57 L506.13 284.01 L507.44 284.46 L508.74 284.90 L510.04 285.33 L511.34 285.76 L512.64 286.19 L513.94 286.62 L515.24 287.04 L516.54 287.46 L517.84 287.88 L519.14 288.29 L520.44 288.71 L521.74 289.11 L523.04 289.52 L524.35 289.92 L525.65 290.32 L526.95 290.72 L528.25 291.11 L529.55 291.51 L530.85 291.90 L532.15 292.28 L533.45 292.67 L534.75 293.05 L536.05 293.43 L537.35 293.81 L538.65 294.19 L539.96 294.56 L541.26 294.93 L542.56 295.30 L543.86 295.67 L545.16 296.03 L546.46 296.39 L547.76 296.75 L549.06 297.11 L550.36 297.47 L551.66 297.82 L552.96 298.18 L554.26 298.53 L555.56 298.88 L556.87 299.22 L558.17 299.57 L559.47 299.91 L560.77 300.25 L562.07 300.59 L563.37 300.93 L564.67 301.27 L565.97 301.60 L567.27 301.94 L568.57 302.27 L569.87 302.60 L571.17 302.93 L572.48 303.25 L573.78 303.58 L575.08 303.90 L576.38 304.22 L577.68 304.54 L578.98 304.86 L580.28 305.18 L581.58 305.49 L582.88 305.81 L584.18 306.12 L585.48 306.43 L586.78 306.74 L588.08 307.05 L589.39 307.36 L590.69 307.66 L591.99 307.96 L593.29 308.27 L594.59 308.57 L595.89 308.87 L597.19 309.16 L598.49 309.46 L599.79 309.76 L601.09 310.05 L602.39 310.34 L603.69 310.63 L605.00 310.92 L606.30 311.21 L607.60 311.49 L608.90 311.78 L610.20 312.06 L611.50 312.35 L612.80 312.63 L614.10 312.91 L615.40 313.18 L616.70 313.46 L618.00 313.73 L619.30 314.01 L620.60 314.28 L621.91 314.55 L623.21 314.82 L624.51 315.09 L625.81 315.36 L627.11 315.62 L628.41 315.88 L629.71 316.15 L631.01 316.41 L632.31 316.67 L633.61 316.93 L634.91 317.18 L636.21 317.44 L637.52 317.69 L638.82 317.94 L640.12 318.19 L641.42 318.44 L642.72 318.69 L644.02 318.94 L645.32 319.18 L646.62 319.43 L647.92 319.67 L649.22 319.91 L650.52 320.15 L651.82 320.39 L653.12 320.63 L654.43 320.86 L655.73 321.10 L657.03 321.33 L658.33 321.56 L659.63 321.79 L660.93 322.02 L662.23 322.24 L663.53 322.47 L664.83 322.69 L666.13 322.92 L667.43 323.14 L668.73 323.36 L670.04 323.58 L671.34 323.79 L672.64 324.01 L673.94 324.22 L675.24 324.44 L676.54 324.65 L677.84 324.86 L679.14 325.07 L680.44 325.27 L681.74 325.48 L683.04 325.69 L684.34 325.89 L685.64 326.09 L686.95 326.29 L688.25 326.49 L689.55 326.69 L690.85 326.89 L692.15 327.08 L693.45 327.28 L694.75 327.47 L696.05 327.66 L697.35 327.85 L698.65 328.04 L699.95 328.23 L701.25 328.42 L702.56 328.61 L703.86 328.79 L705.16 328.98 L706.46 329.16 L707.76 329.34 L709.06 329.52 L710.36 329.70 L711.66 329.88 L712.96 330.06 L714.26 330.24 L715.56 330.41 L716.86 330.59 L718.16 330.76 L719.47 330.94 L720.77 331.11 L722.07 331.28 L723.37 331.45 L724.67 331.62 L725.97 331.79 L727.27 331.96 L728.57 332.13 L729.87 332.30 L731.17 332.47 L732.47 332.63 L733.77 332.80 L735.08 332.97 L736.38 333.13 L737.68 333.30 L738.98 333.46 L740.28 333.63 L741.58 333.79 L742.88 333.96 L744.18 334.12 L745.48 334.29 L746.78 334.45 L748.08 334.62 L749.38 334.78 L750.68 334.95 L751.99 335.11 L753.29 335.28 L754.59 335.44 L755.89 335.61 L757.19 335.78 L758.49 335.94 L759.79 336.11 L761.09 336.28 L762.39 336.45 L763.69 336.62 L764.99 336.79 L766.29 336.96 L767.60 337.13 L768.90 337.30 L770.20 337.48 L771.50 337.66 L772.80 337.83 L774.10 338.01 L775.40 338.19" stroke="#ff0000" stroke-width="1.6" fill="none"/>
<path d="M125.00 280.31 L126.30 280.28 L127.60 280.17 L128.90 279.99 L130.20 279.73 L131.50 279.39 L132.80 278.98 L134.11 278.50 L135.41 277.93 L136.71 277.29 L138.01 276.56 L139.31 275.76 L140.61 274.87 L141.91 273.90 L143.21 272.85 L144.51 271.71 L145.81 270.49 L147.11 269.19 L148.41 267.80 L149.72 266.32 L151.02 264.76 L152.32 263.12 L153.62 261.39 L154.92 259.58 L156.22 257.69 L157.52 255.72 L158.82 253.67 L160.12 251.54 L161.42 249.34 L162.72 247.06 L164.02 244.72 L165.32 242.31 L166.63 239.83 L167.93 237.29 L169.23 234.69 L170.53 232.03 L171.83 229.33 L173.13 226.57 L174.43 223.76 L175.73 220.91 L177.03 218.03 L178.33 215.10 L179.63 212.15 L180.93 209.16 L182.24 206.15 L183.54 203.12 L184.84 200.07 L186.14 197.01 L187.44 193.94 L188.74 190.86 L190.04 187.78 L191.34 184.71 L192.64 181.64 L193.94 178.57 L195.24 175.52 L196.54 172.49 L197.84 169.48 L199.15 166.50 L200.45 163.54 L201.75 160.61 L203.05 157.73 L204.35 154.88 L205.65 152.07 L206.95 149.31 L208.25 146.60 L209.55 143.95 L210.85 141.35 L212.15 138.81 L213.45 136.34 L214.76 133.93 L216.06 131.59 L217.36 129.33 L218.66 127.14 L219.96 125.03 L221.26 123.00 L222.56 121.05 L223.86 119.19 L225.16 117.42 L226.46 115.74 L227.76 114.14 L229.06 112.64 L230.36 111.24 L231.67 109.93 L232.97 108.72 L234.27 107.60 L235.57 106.58 L236.87 105.65 L238.17 104.82 L239.47 104.09 L240.77 103.45 L242.07 102.91 L243.37 102.45 L244.67 102.09 L245.97 101.81 L247.28 101.61 L248.58 101.50 L249.88 101.47 L251.18 101.51 L252.48 101.63 L253.78 101.81 L255.08 102.07 L256.38 102.39 L257.68 102.77 L258.98 103.22 L260.28 103.72 L261.58 104.28 L262.88 104.90 L264.19 105.56 L265.49 106.28 L266.79 107.04 L268.09 107.86 L269.39 108.71 L270.69 109.60 L271.99 110.54 L273.29 111.51 L274.59 112.52 L275.89 113.56 L277.19 114.64 L278.49 115.74 L279.80 116.87 L281.10 118.03 L282.40 119.21 L283.70 120.42 L285.00 121.65 L286.30 122.89 L287.60 124.16 L288.90 125.44 L290.20 126.73 L291.50 128.04 L292.80 129.36 L294.10 130.70 L295.40 132.04 L296.71 133.39 L298.01 134.75 L299.31 136.11 L300.61 137.48 L301.91 138.86 L303.21 140.24 L304.51 141.62 L305.81 143.01 L307.11 144.40 L308.41 145.78 L309.71 147.18 L311.01 148.57 L312.32 149.96 L313.62 151.35 L314.92 152.75 L316.22 154.14 L317.52 155.53 L318.82 156.93 L320.12 158.32 L321.42 159.72 L322.72 161.11 L324.02 162.51 L325.32 163.90 L326.62 165.30 L327.92 166.69 L329.23 168.09 L330.53 169.48 L331.83 170.87 L333.13 172.26 L334.43 173.65 L335.73 175.04 L337.03 176.42 L338.33 177.79 L339.63 179.16 L340.93 180.52 L342.23 181.88 L343.53 183.22 L344.84 184.56 L346.14 185.88 L347.44 187.20 L348.74 188.49 L350.04 189.78 L351.34 191.05 L352.64 192.30 L353.94 193.53 L355.24 194.75 L356.54 195.95 L357.84 197.13 L359.14 198.29 L360.44 199.44 L361.75 200.56 L363.05 201.67 L364.35 202.75 L365.65 203.82 L366.95 204.87 L368.25 205.91 L369.55 206.93 L370.85 207.94 L372.15 208.93 L373.45 209.91 L374.75 210.88 L376.05 211.84 L377.36 212.79 L378.66 213.73 L379.96 214.66 L381.26 215.59 L382.56 216.52 L383.86 217.44 L385.16 218.35 L386.46 219.27 L387.76 220.18 L389.06 221.09 L390.36 222.01 L391.66 222.92 L392.96 223.83 L394.27 224.74 L395.57 225.66 L396.87 226.57 L398.17 227.49 L399.47 228.40 L400.77 229.32 L402.07 230.24 L403.37 231.16 L404.67 232.07 L405.97 232.99 L407.27 233.91 L408.57 234.82 L409.88 235.74 L411.18 236.65 L412.48 237.56 L413.78 238.46 L415.08 239.36 L416.38 240.26 L417.68 241.15 L418.98 242.04 L420.28 242.92 L421.58 243.80 L422.88 244.66 L424.18 245.52 L425.48 246.38 L426.79 247.22 L428.09 248.05 L429.39 248.88 L430.69 249.69 L431.99 250.50 L433.29 251.29 L434.59 252.08 L435.89 252.85 L437.19 253.61 L438.49 254.36 L439.79 255.09 L441.09 255.82 L442.40 256.53 L443.70 257.23 L445.00 257.92 L446.30 258.60 L447.60 259.27 L448.90 259.93 L450.20 260.58 L451.50 261.21 L452.80 261.84 L454.10 262.46 L455.40 263.07 L456.70 263.67 L458.00 264.26 L459.31 264.84 L460.61 265.41 L461.91 265.98 L463.21 266.54 L464.51 267.10 L465.81 267.65 L467.11 268.19 L468.41 268.72 L469.71 269.25 L471.01 269.78 L472.31 270.30 L473.61 270.82 L474.92 271.33 L476.22 271.84 L477.52 272.34 L478.82 272.84 L480.12 273.34 L481.42 273.83 L482.72 274.32 L484.02 274.81 L485.32 275.29 L486.62 275.77 L487.92 276.25 L489.22 276.72 L490.52 277.19 L491.83 277.66 L493.13 278.13 L494.43 278.59 L495.73 279.06 L497.03 279.52 L498.33 279.97 L499.63 280.43 L500.93 280.88 L502.23 281.33 L503.53 281.78 L504.83 282.22 L506.13 282.67 L507.44 283.11 L508.74 283.55 L510.04 283.99 L511.34 284.42 L512.64 284.86 L513.94 285.29 L515.24 285.72 L516.54 286.14 L517.84 286.57 L519.14 286.99 L520.44 287.41 L521.74 287.83 L523.04 288.24 L524.35 288.66 L525.65 289.07 L526.95 289.48 L528.25 289.88 L529.55 290.29 L530.85 290.69 L532.15 291.09 L533.45 291.49 L534.75 291.89 L536.05 292.28 L537.35 292.68 L538.65 293.07 L539.96 293.46 L541.26 293.84 L542.56 294.23 L543.86 294.61 L545.16 294.99 L546.46 295.36 L547.76 295.74 L549.06 296.11 L550.36 296.49 L551.66 296.86 L552.96 297.22 L554.26 297.59 L555.56 297.95 L556.87 298.31 L558.17 298.67 L559.47 299.03 L560.77 299.38 L562.07 299.74 L563.37 300.09 L564.67 300.44 L565.97 300.78 L567.27 301.13 L568.57 301.47 L569.87 301.81 L571.17 302.15 L572.48 302.49 L573.78 302.83 L575.08 303.16 L576.38 303.49 L577.68 303.82 L578.98 304.15 L580.28 304.47 L581.58 304.80 L582.88 305.12 L584.18 305.44 L585.48 305.76 L586.78 306.07 L588.08 306.39 L589.39 306.70 L590.69 307.01 L591.99 307.32 L593.29 307.63 L594.59 307.93 L595.89 308.24 L597.19 308.54 L598.49 308.84 L599.79 309.14 L601.09 309.44 L602.39 309.73 L603.69 310.02 L605.00 310.32 L606.30 310.61 L607.60 310.89 L608.90 311.18 L610.20 311.46 L611.50 311.75 L612.80 312.03 L614.10 312.31 L615.40 312.59 L616.70 312.86 L618.00 313.14 L619.30 313.41 L620.60 313.68 L621.91 313.95 L623.21 314.22 L624.51 314.49 L625.81 314.76 L627.11 315.02 L628.41 315.28 L629.71 315.54 L631.01 315.80 L632.31 316.06 L633.61 316.32 L634.91 316.57 L636.21 316.83 L637.52 317.08 L638.82 317.33 L640.12 317.58 L641.42 317.83 L642.72 318.08 L644.02 318.32 L645.32 318.57 L646.62 318.81 L647.92 319.05 L649.22 319.29 L650.52 319.53 L651.82 319.77 L653.12 320.00 L654.43 320.24 L655.73 320.47 L657.03 320.71 L658.33 320.94 L659.63 321.17 L660.93 321.40 L662.23 321.62 L663.53 321.85 L664.83 322.07 L666.13 322.30 L667.43 322.52 L668.73 322.74 L670.04 322.96 L671.34 323.18 L672.64 323.40 L673.94 323.62 L675.24 323.84 L676.54 324.05 L677.84 324.26 L679.14 324.48 L680.44 324.69 L681.74 324.90 L683.04 325.11 L684.34 325.32 L685.64 325.53 L686.95 325.73 L688.25 325.94 L689.55 326.14 L690.85 326.35 L692.15 326.55 L693.45 326.75 L694.75 326.95 L696.05 327.15 L697.35 327.35 L698.65 327.55 L699.95 327.75 L701.25 327.94 L702.56 328.14 L703.86 328.33 L705.16 328.53 L706.46 328.72 L707.76 328.91 L709.06 329.10 L710.36 329.29 L711.66 329.48 L712.96 329.67 L714.26 329.86 L715.56 330.05 L716.86 330.23 L718.16 330.42 L719.47 330.60 L720.77 330.78 L722.07 330.97 L723.37 331.15 L724.67 331.33 L725.97 331.51 L727.27 331.69 L728.57 331.87 L729.87 332.05 L731.17 332.22 L732.47 332.40 L733.77 332.58 L735.08 332.75 L736.38 332.93 L737.68 333.10 L738.98 333.27 L740.28 333.44 L741.58 333.62 L742.88 333.79 L744.18 333.96 L745.48 334.13 L746.78 334.29 L748.08 334.46 L749.38 334.63 L750.68 334.80 L751.99 334.96 L753.29 335.13 L754.59 335.29 L755.89 335.45 L757.19 335.62 L758.49 335.78 L759.79 335.94 L761.09 336.10 L762.39 336.26 L763.69 336.42 L764.99 336.58 L766.29 336.74 L767.60 336.89 L768.90 337.05 L770.20 337.20 L771.50 337.36 L772.80 337.51 L774.10 337.67 L775.40 337.82" stroke="#00ff00" stroke-width="1.6" fill="none"/>
<path d="M125.00 412.18 L126.30 412.16 L127.60 412.13 L128.90 412.07 L130.20 411.99 L131.50 411.89 L132.80 411.78 L134.11 411.64 L135.41 411.48 L136.71 411.31 L138.01 411.11 L139.31 410.89 L140.61 410.66 L141.91 410.40 L143.21 410.13 L144.51 409.84 L145.81 409.53 L147.11 409.19 L148.41 408.84 L149.72 408.47 L151.02 408.08 L152.32 407.68 L153.62 407.25 L154.92 406.80 L156.22 406.33 L157.52 405.85 L158.82 405.34 L160.12 404.82 L161.42 404.27 L162.72 403.71 L164.02 403.12 L165.32 402.51 L166.63 401.88 L167.93 401.24 L169.23 400.56 L170.53 399.87 L171.83 399.16 L173.13 398.42 L174.43 397.65 L175.73 396.87 L177.03 396.06 L178.33 395.22 L179.63 394.36 L180.93 393.47 L182.24 392.55 L183.54 391.60 L184.84 390.63 L186.14 389.62 L187.44 388.58 L188.74 387.52 L190.04 386.42 L191.34 385.28 L192.64 384.11 L193.94 382.91 L195.24 381.67 L196.54 380.40 L197.84 379.09 L199.15 377.74 L200.45 376.36 L201.75 374.93 L203.05 373.48 L204.35 371.98 L205.65 370.44 L206.95 368.87 L208.25 367.26 L209.55 365.61 L210.85 363.93 L212.15 362.21 L213.45 360.46 L214.76 358.67 L216.06 356.84 L217.36 354.99 L218.66 353.10 L219.96 351.18 L221.26 349.23 L222.56 347.25 L223.86 345.25 L225.16 343.22 L226.46 341.16 L227.76 339.08 L229.06 336.98 L230.36 334.86 L231.67 332.72 L232.97 330.56 L234.27 328.39 L235.57 326.20 L236.87 324.00 L238.17 321.78 L239.47 319.56 L240.77 317.33 L242.07 315.10 L243.37 312.86 L244.67 310.61 L245.97 308.37 L247.28 306.13 L248.58 303.89 L249.88 301.65 L251.18 299.42 L252.48 297.20 L253.78 294.98 L255.08 292.78 L256.38 290.59 L257.68 288.41 L258.98 286.25 L260.28 284.10 L261.58 281.97 L262.88 279.86 L264.19 277.77 L265.49 275.70 L266.79 273.65 L268.09 271.63 L269.39 269.64 L270.69 267.67 L271.99 265.72 L273.29 263.81 L274.59 261.92 L275.89 260.07 L277.19 258.25 L278.49 256.46 L279.80 254.70 L281.10 252.97 L282.40 251.29 L283.70 249.63 L285.00 248.01 L286.30 246.43 L287.60 244.89 L288.90 243.39 L290.20 241.92 L291.50 240.49 L292.80 239.10 L294.10 237.75 L295.40 236.45 L296.71 235.18 L298.01 233.95 L299.31 232.77 L300.61 231.62 L301.91 230.52 L303.21 229.46 L304.51 228.44 L305.81 227.47 L307.11 226.53 L308.41 225.64 L309.71 224.79 L311.01 223.98 L312.32 223.21 L313.62 222.48 L314.92 221.80 L316.22 221.15 L317.52 220.55 L318.82 219.98 L320.12 219.46 L321.42 218.98 L322.72 218.53 L324.02 218.12 L325.32 217.75 L326.62 217.42 L327.92 217.12 L329.23 216.86 L330.53 216.63 L331.83 216.44 L333.13 216.29 L334.43 216.16 L335.73 216.07 L337.03 216.01 L338.33 215.97 L339.63 215.97 L340.93 216.00 L342.23 216.06 L343.53 216.14 L344.84 216.25 L346.14 216.38 L347.44 216.54 L348.74 216.72 L350.04 216.92 L351.34 217.15 L352.64 217.39 L353.94 217.66 L355.24 217.95 L356.54 218.25 L357.84 218.57 L359.14 218.91 L360.44 219.27 L361.75 219.64 L363.05 220.02 L364.35 220.42 L365.65 220.84 L366.95 221.26 L368.25 221.70 L369.55 222.15 L370.85 222.61 L372.15 223.08 L373.45 223.56 L374.75 224.05 L376.05 224.55 L377.36 225.05 L378.66 225.57 L379.96 226.09 L381.26 226.62 L382.56 227.15 L383.86 227.70 L385.16 228.25 L386.46 228.80 L387.76 229.36 L389.06 229.92 L390.36 230.49 L391.66 231.06 L392.96 231.64 L394.27 232.22 L395.57 232.81 L396.87 233.39 L398.17 233.98 L399.47 234.58 L400.77 235.17 L402.07 235.77 L403.37 236.37 L404.67 236.97 L405.97 237.57 L407.27 238.18 L408.57 238.78 L409.88 239.39 L411.18 240.00 L412.48 240.61 L413.78 241.22 L415.08 241.83 L416.38 242.44 L417.68 243.05 L418.98 243.66 L420.28 244.27 L421.58 244.88 L422.88 245.49 L424.18 246.10 L425.48 246.71 L426.79 247.32 L428.09 247.92 L429.39 248.53 L430.69 249.13 L431.99 249.74 L433.29 250.34 L434.59 250.94 L435.89 251.54 L437.19 252.14 L438.49 252.74 L439.79 253.33 L441.09 253.93 L442.40 254.52 L443.70 255.11 L445.00 255.69 L446.30 256.28 L447.60 256.86 L448.90 257.44 L450.20 258.02 L451.50 258.60 L452.80 259.17 L454.10 259.74 L455.40 260.31 L456.70 260.88 L458.00 261.44 L459.31 262.00 L460.61 262.56 L461.91 263.12 L463.21 263.67 L464.51 264.22 L465.81 264.77 L467.11 265.31 L468.41 265.85 L469.71 266.39 L471.01 266.93 L472.31 267.46 L473.61 267.99 L474.92 268.52 L476.22 269.04 L477.52 269.56 L478.82 270.08 L480.12 270.60 L481.42 271.11 L482.72 271.62 L484.02 272.13 L485.32 272.63 L486.62 273.13 L487.92 273.63 L489.22 274.12 L490.52 274.61 L491.83 275.10 L493.13 275.59 L494.43 276.07 L495.73 276.55 L497.03 277.03 L498.33 277.50 L499.63 277.98 L500.93 278.44 L502.23 278.91 L503.53 279.37 L504.83 279.83 L506.13 280.29 L507.44 280.75 L508.74 281.20 L510.04 281.65 L511.34 282.09 L512.64 282.54 L513.94 282.98 L515.24 283.42 L516.54 283.85 L517.84 284.29 L519.14 284.72 L520.44 285.15 L521.74 285.57 L523.04 286.00 L524.35 286.42 L525.65 286.84 L526.95 287.25 L528.25 287.67 L529.55 288.08 L530.85 288.49 L532.15 288.90 L533.45 289.30 L534.75 289.70 L536.05 290.10 L537.35 290.50 L538.65 290.90 L539.96 291.29 L541.26 291.68 L542.56 292.07 L543.86 292.46 L545.16 292.85 L546.46 293.23 L547.76 293.61 L549.06 293.99 L550.36 294.37 L551.66 294.75 L552.96 295.12 L554.26 295.49 L555.56 295.86 L556.87 296.23 L558.17 296.60 L559.47 296.96 L560.77 297.32 L562.07 297.68 L563.37 298.04 L564.67 298.40 L565.97 298.76 L567.27 299.11 L568.57 299.46 L569.87 299.81 L571.17 300.16 L572.48 300.51 L573.78 300.85 L575.08 301.20 L576.38 301.54 L577.68 301.88 L578.98 302.22 L580.28 302.55 L581.58 302.89 L582.88 303.22 L584.18 303.55 L585.48 303.88 L586.78 304.21 L588.08 304.54 L589.39 304.86 L590.69 305.19 L591.99 305.51 L593.29 305.83 L594.59 306.15 L595.89 306.46 L597.19 306.78 L598.49 307.09 L599.79 307.41 L601.09 307.72 L602.39 308.03 L603.69 308.33 L605.00 308.64 L606.30 308.95 L607.60 309.25 L608.90 309.55 L610.20 309.85 L611.50 310.15 L612.80 310.45 L614.10 310.74 L615.40 311.03 L616.70 311.33 L618.00 311.62 L619.30 311.91 L620.60 312.19 L621.91 312.48 L623.21 312.76 L624.51 313.05 L625.81 313.33 L627.11 313.61 L628.41 313.89 L629.71 314.16 L631.01 314.44 L632.31 314.71 L633.61 314.99 L634.91 315.26 L636.21 315.53 L637.52 315.79 L638.82 316.06 L640.12 316.33 L641.42 316.59 L642.72 316.85 L644.02 317.11 L645.32 317.37 L646.62 317.63 L647.92 317.88 L649.22 318.14 L650.52 318.39 L651.82 318.64 L653.12 318.89 L654.43 319.14 L655.73 319.38 L657.03 319.63 L658.33 319.87 L659.63 320.12 L660.93 320.36 L662.23 320.60 L663.53 320.83 L664.83 321.07 L666.13 321.31 L667.43 321.54 L668.73 321.77 L670.04 322.00 L671.34 322.23 L672.64 322.46 L673.94 322.68 L675.24 322.91 L676.54 323.13 L677.84 323.36 L679.14 323.58 L680.44 323.80 L681.74 324.01 L683.04 324.23 L684.34 324.45 L685.64 324.66 L686.95 324.87 L688.25 325.08 L689.55 325.29 L690.85 325.50 L692.15 325.71 L693.45 325.91 L694.75 326.12 L696.05 326.32 L697.35 326.53 L698.65 326.73 L699.95 326.93 L701.25 327.12 L702.56 327.32 L703.86 327.52 L705.16 327.71 L706.46 327.91 L707.76 328.10 L709.06 328.29 L710.36 328.48 L711.66 328.67 L712.96 328.86 L714.26 329.05 L715.56 329.24 L716.86 329.42 L718.16 329.61 L719.47 329.79 L720.77 329.97 L722.07 330.15 L723.37 330.34 L724.67 330.52 L725.97 330.69 L727.27 330.87 L728.57 331.05 L729.87 331.23 L731.17 331.40 L732.47 331.58 L733.77 331.76 L735.08 331.93 L736.38 332.10 L737.68 332.28 L738.98 332.45 L740.28 332.62 L741.58 332.80 L742.88 332.97 L744.18 333.14 L745.48 333.31 L746.78 333.48 L748.08 333.65 L749.38 333.82 L750.68 333.99 L751.99 334.16 L753.29 334.33 L754.59 334.50 L755.89 334.67 L757.19 334.84 L758.49 335.01 L759.79 335.18 L761.09 335.35 L762.39 335.52 L763.69 335.69 L764.99 335.86 L766.29 336.03 L767.60 336.21 L768.90 336.38 L770.20 336.55 L771.50 336.72 L772.80 336.90 L774.10 337.07 L775.40 337.25" stroke="#0000ff" stroke-width="1.6" fill="none"/>
</g>
<g style="will-change:transform">
<text transform="translate(104.6 68.80) scale(0.93 1)" x="0" y="0" text-anchor="end">1.5</text>
<text transform="translate(104.6 186.10) scale(0.93 1)" x="0" y="0" text-anchor="end">1.0</text>
<text transform="translate(104.6 303.40) scale(0.93 1)" x="0" y="0" text-anchor="end">0.5</text>
<text transform="translate(104.6 420.70) scale(0.93 1)" x="0" y="0" text-anchor="end">0.0</text>
<text x="125.00" y="449.6" text-anchor="middle">0</text>
<text x="255.08" y="449.6" text-anchor="middle">1</text>
<text x="385.16" y="449.6" text-anchor="middle">2</text>
<text x="515.24" y="449.6" text-anchor="middle">3</text>
<text x="645.32" y="449.6" text-anchor="middle">4</text>
<text x="775.40" y="449.6" text-anchor="middle">5</text>
<text x="0.4" y="218.6" style="font-size:23px">Re</text>
<text x="26.4" y="218.6" style="font-size:23px">(</text>
<text transform="translate(33.3 218.6) scale(1.30 1.04)" x="0" y="0" style="font-size:23px" font-style="italic">σ</text>
<text x="50.2" y="218.6" style="font-size:23px">)</text>
<text transform="translate(442.5 494.6) scale(1.07 1)" x="0" y="0" style="font-size:23px" font-style="italic">ω</text>
</g>
</svg>
</body></html>
